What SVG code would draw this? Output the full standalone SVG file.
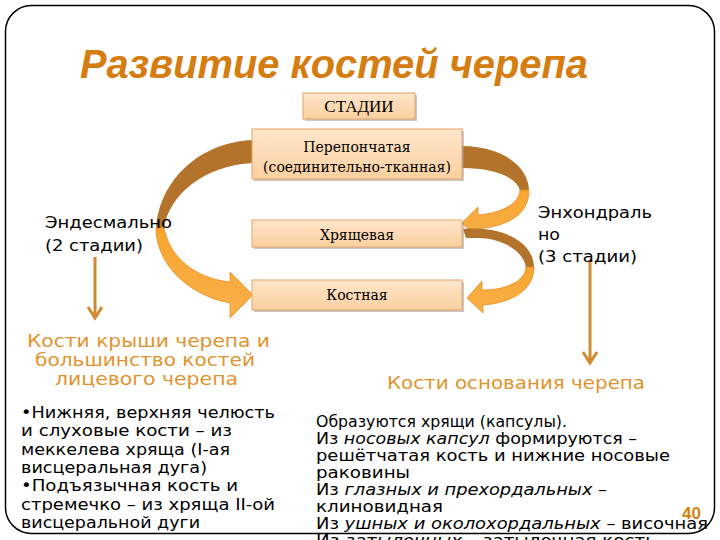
<svg xmlns="http://www.w3.org/2000/svg" width="720" height="540" viewBox="0 0 720 540">
<style>
.box{fill:url(#bg);stroke:#E3A467;stroke-width:1}
.sh{fill:#9a9a9a;opacity:0.55}
.bt{font-family:"DejaVu Serif","Liberation Serif",serif;font-size:14px;fill:#000;text-anchor:middle}
.lbl{font-family:"DejaVu Sans",sans-serif;font-size:16px;fill:#000}
.or{font-family:"DejaVu Sans",sans-serif;font-size:17px;fill:#E0932C}
.body{font-family:"DejaVu Sans",sans-serif;font-size:16px;fill:#000}
.it{font-style:italic}
.brown{fill:#B3732B}
.orange{fill:url(#og);stroke:#E48D22;stroke-width:0.8}
.dl{stroke:#D08A32;stroke-width:3;fill:none}
</style>
<defs>
<linearGradient id="bg" x1="0" y1="0" x2="0" y2="1">
<stop offset="0" stop-color="#FEE6CB"/><stop offset="1" stop-color="#FBD09F"/>
</linearGradient>
<linearGradient id="og" x1="0" y1="0" x2="0" y2="1">
<stop offset="0" stop-color="#F7A52E"/><stop offset="1" stop-color="#F9B04A"/>
</linearGradient>
</defs>
<rect x="5.5" y="5.5" width="709" height="528" rx="26" fill="#fff" stroke="#000" stroke-width="1.5"/>
<text x="80" y="78" font-family="Liberation Sans, Arial, sans-serif" font-size="40" font-weight="bold" font-style="italic" fill="#D57D10" textLength="508" lengthAdjust="spacingAndGlyphs">Развитие костей черепа</text>

<g id="connectors">
<path class="brown" d="M253,140 C200,142 159,180 156,229 L164,229 C168,195 205,165 253,163 Z"/>
<path class="orange" d="M156,228 C156,265 190,296 230,303 L230,318 L253,295 L230,272 L230,282 C195,278 170,258 164,228 Z"/>
<path class="brown" d="M462,146 C500,146 529,165 529,191 L520,191 C518,178 495,168 462,168 Z"/>
<path class="orange" d="M529,190 C529,215 508,226 478,229 L478,238 L462,223 L478,207 L478,215 C500,213 519,205 520,190 Z"/>
<path class="brown" d="M463,229 C500,226 534,240 534,268 L526,268 C524,250 500,238 478,238 L466,238 Z"/>
<path class="orange" d="M534,267 C534,290 512,303 483,305 L483,313 L467,298 L482,281 L482,290 C505,290 525,282 526,267 Z"/>
<path class="dl" d="M95,257 V318 M88,307 L95,318 L102,307"/>
<path class="dl" d="M590,260 V363 M583,352 L590,363 L597,352"/>
</g>

<g id="stadii">
<rect class="sh" x="305" y="95" width="112" height="26"/>
<rect class="box" x="303" y="93" width="112" height="26"/>
<text x="359" y="112" font-family="Liberation Serif, serif" font-size="17" text-anchor="middle">СТАДИИ</text>
</g>
<g id="perepon">
<rect class="sh" x="254" y="131" width="210" height="50"/>
<rect class="box" x="252" y="129" width="210" height="50"/>
<text class="bt" x="357" y="152">Перепончатая</text>
<text class="bt" x="357" y="172">(соединительно-тканная)</text>
</g>
<g id="khryash">
<rect class="sh" x="254" y="222" width="210" height="27"/>
<rect class="box" x="252" y="220" width="210" height="27"/>
<text class="bt" x="357" y="240">Хрящевая</text>
</g>
<g id="kostn">
<rect class="sh" x="254" y="282" width="210" height="30"/>
<rect class="box" x="252" y="280" width="210" height="30"/>
<text class="bt" x="357" y="300">Костная</text>
</g>

<g id="endesm">
<text class="lbl" x="45" y="228" textLength="127" lengthAdjust="spacingAndGlyphs">Эндесмально</text>
<text class="lbl" x="45" y="251" textLength="98" lengthAdjust="spacingAndGlyphs">(2 стадии)</text>
</g>
<g id="enchond">
<text class="lbl" x="538" y="218" textLength="114" lengthAdjust="spacingAndGlyphs">Энхондраль</text>
<text class="lbl" x="538" y="240" textLength="22" lengthAdjust="spacingAndGlyphs">но</text>
<text class="lbl" x="538" y="262" textLength="99" lengthAdjust="spacingAndGlyphs">(3 стадии)</text>
</g>
<g id="krysha">
<text class="or" x="27" y="347" textLength="243" lengthAdjust="spacingAndGlyphs">Кости крыши  черепа и</text>
<text class="or" x="35" y="366" textLength="220" lengthAdjust="spacingAndGlyphs">большинство костей</text>
<text class="or" x="55" y="385" textLength="183" lengthAdjust="spacingAndGlyphs">лицевого черепа</text>
</g>
<g id="osnov">
<text class="or" x="387" y="389" textLength="258" lengthAdjust="spacingAndGlyphs">Кости основания черепа</text>
</g>
<g id="leftlist">
<text class="body" x="21" y="418" textLength="254" lengthAdjust="spacingAndGlyphs">•Нижняя, верхняя челюсть</text>
<text class="body" x="21" y="436" textLength="211" lengthAdjust="spacingAndGlyphs">и слуховые кости – из</text>
<text class="body" x="21" y="454.5" textLength="209" lengthAdjust="spacingAndGlyphs">меккелева хряща (I-ая</text>
<text class="body" x="21" y="473" textLength="186" lengthAdjust="spacingAndGlyphs">висцеральная дуга)</text>
<text class="body" x="21" y="491" textLength="217" lengthAdjust="spacingAndGlyphs">•Подъязычная кость и</text>
<text class="body" x="21" y="509.5" textLength="254" lengthAdjust="spacingAndGlyphs">стремечко – из хряща II-ой</text>
<text class="body" x="21" y="528" textLength="179" lengthAdjust="spacingAndGlyphs">висцеральной дуги</text>
</g>
<g id="rightlist">
<text class="body" x="316" y="427" textLength="251" lengthAdjust="spacingAndGlyphs">Образуются хрящи (капсулы).</text>
<text class="body" x="316" y="444" textLength="321" lengthAdjust="spacingAndGlyphs">Из <tspan class="it">носовых капсул</tspan> формируются –</text>
<text class="body" x="316" y="461" textLength="354" lengthAdjust="spacingAndGlyphs">решётчатая кость и нижние носовые</text>
<text class="body" x="316" y="478" textLength="94" lengthAdjust="spacingAndGlyphs">раковины</text>
<text class="body" x="316" y="494.5" textLength="291" lengthAdjust="spacingAndGlyphs">Из <tspan class="it">глазных и прехордальных</tspan> –</text>
<text class="body" x="316" y="511.5" textLength="127" lengthAdjust="spacingAndGlyphs">клиновидная</text>
<text class="body" x="316" y="528.5" textLength="392" lengthAdjust="spacingAndGlyphs">Из <tspan class="it">ушных и околохордальных</tspan> – височная</text>
<text class="body" x="316" y="545.5" textLength="340" lengthAdjust="spacingAndGlyphs">Из <tspan class="it">затылочных</tspan> – затылочная кость</text>
</g>
<text x="682" y="519" font-family="Liberation Sans, Arial, sans-serif" font-size="17" font-weight="bold" fill="#D4820F">40</text>
</svg>
